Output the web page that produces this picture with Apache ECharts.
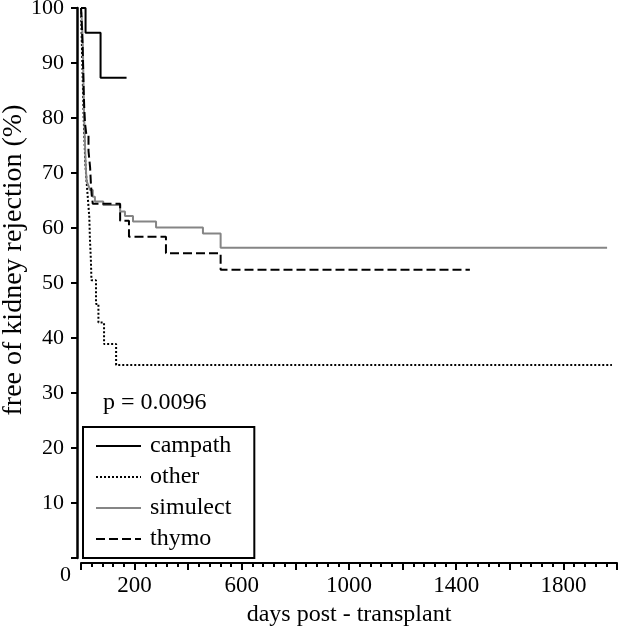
<!DOCTYPE html>
<html>
<head>
<meta charset="utf-8">
<script src="https://cdn.jsdelivr.net/npm/echarts@6/dist/echarts.min.js"></script>
<style>
html,body{margin:0;padding:0;background:#fff;}
#chart{width:623px;height:629px;}
</style>
</head>
<body>
<div id="chart"></div>
<script>
// ---- data (Kaplan-Meier step points: [day, % free]) ----
const seriesNames = ['campath', 'other', 'simulect', 'thymo'];
const campathDays = [0, 17, 73, 170];
const campathSurv = [100, 95.5, 87.3, 87.3];
const otherDays = [0, 2, 4, 6, 8, 10, 13, 16, 20, 24, 31, 33, 37, 39, 56, 65, 86, 131, 1981];
const otherSurv = [100, 96, 92, 88, 84, 80, 76, 72, 69, 66.4, 62, 58.4, 54, 50.5, 46.2, 42.8, 38.9, 35.1, 35.1];
const simulectDays = [0, 3, 5, 7, 8, 9, 10, 11, 13, 15, 17, 19, 21, 27, 34, 44, 52, 83, 146, 164, 194, 280, 455, 521, 1963];
const simulectSurv = [100, 97.8, 95.5, 93, 90, 87, 84, 81.5, 78, 75, 72, 70, 68.5, 67.8, 66.9, 65.7, 64.8, 64.2, 63.0, 62.2, 61.2, 60.1, 59.0, 56.4, 56.4];
const thymoDays = [0, 3, 6, 8, 10, 12, 15, 20, 28, 34, 37, 40, 44, 146, 179, 317, 521, 1451];
const thymoSurv = [100, 97, 93, 89, 85, 82, 79, 77, 74, 71, 68, 66, 64.4, 61.3, 58.4, 55.4, 52.4, 52.4];
const xLabelsShown = [200, 600, 1000, 1400, 1800];
const pText = 'p = 0.0096';
const xTitle = 'days post - transplant';
const yTitle = 'free of kidney rejection (%)';

const FONT = "'Liberation Serif','Times New Roman',serif";
function pairs(d, s) { return d.map((v, i) => [v, s[i]]); }

const chart = echarts.init(document.getElementById('chart'), null, {renderer: 'canvas'});
const styles = {
  campath: {color: '#000', type: 'solid'},
  other: {color: '#000', type: [2, 2]},
  simulect: {color: '#858585', type: 'solid'},
  thymo: {color: '#000', type: [9, 4]}
};
const dataMap = {
  campath: pairs(campathDays, campathSurv),
  other: pairs(otherDays, otherSurv),
  simulect: pairs(simulectDays, simulectSurv),
  thymo: pairs(thymoDays, thymoSurv)
};

chart.setOption({
  animation: false,
  backgroundColor: '#fff',
  grid: {left: 81, right: 6, top: 8, bottom: 71, containLabel: false, outerBoundsMode: 'none'},
  xAxis: {
    type: 'value', min: 0, max: 2000, interval: 200, offset: 5,
    axisLine: {show: true, onZero: false, lineStyle: {color: '#000', width: 2}},
    axisTick: {show: true, length: 7, lineStyle: {color: '#000', width: 2}},
    minorTick: {show: true, splitNumber: 5, length: 4, lineStyle: {color: '#000', width: 2}},
    splitLine: {show: false},
    axisLabel: {
      margin: 11, color: '#000', fontFamily: FONT, fontSize: 23,
      formatter: v => xLabelsShown.indexOf(v) >= 0 ? String(v) : ''
    },
    name: xTitle, nameLocation: 'middle', nameGap: 40,
    nameTextStyle: {color: '#000', fontFamily: FONT, fontSize: 24}
  },
  yAxis: {
    type: 'value', min: 0, max: 100, interval: 10, offset: 4,
    axisLine: {show: true, onZero: false, lineStyle: {color: '#000', width: 2.5}},
    axisTick: {show: true, length: 6, lineStyle: {color: '#000', width: 2}},
    splitLine: {show: false},
    axisLabel: {
      margin: 13, color: '#000', fontFamily: FONT, fontSize: 22,
      formatter: v => v === 0 ? '' : String(v)
    }
  },
  legend: {
    orient: 'vertical', left: 83, top: 427,
    padding: [7, 23, 7, 12],
    itemWidth: 45, itemHeight: 14, itemGap: 7,
    borderColor: '#000', borderWidth: 2, borderRadius: 0,
    backgroundColor: '#fff',
    itemStyle: {opacity: 0},
    textStyle: {color: '#000', fontFamily: FONT, fontSize: 24, padding: [0, 0, 0, 4]},
    data: seriesNames
  },
  graphic: [
    {type: 'text', left: 103, top: 391, style: {text: pText, fill: '#000', font: '24px ' + FONT}},
    {type: 'text', left: 60, top: 564, style: {text: '0', fill: '#000', font: '22px ' + FONT}},
    {type: 'text', x: 0, y: 260, rotation: Math.PI / 2,
     style: {text: yTitle, fill: '#000', font: '28px ' + FONT, align: 'center', verticalAlign: 'top'}}
  ],
  series: seriesNames.map(n => ({
    name: n, type: 'line', step: 'end', symbol: 'none', clip: false,
    data: dataMap[n],
    itemStyle: {color: styles[n].color},
    lineStyle: {color: styles[n].color, width: 2, type: styles[n].type}
  }))
});
</script>
</body>
</html>
